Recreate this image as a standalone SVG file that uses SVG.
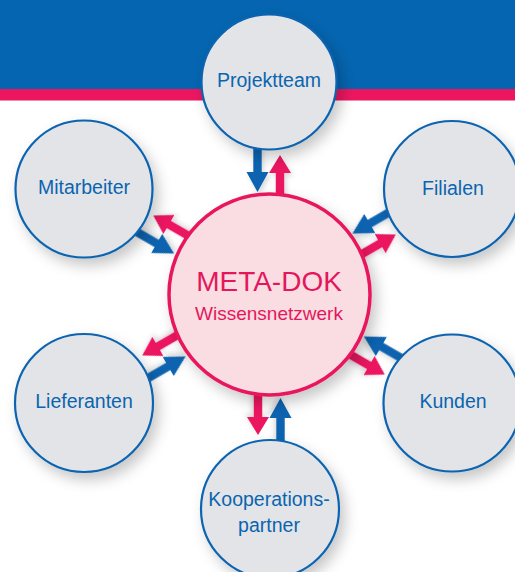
<svg xmlns="http://www.w3.org/2000/svg" width="515" height="572" viewBox="0 0 515 572">
  <defs>
    <style>
      .sat { fill: #e3e4e7; stroke: #0a64b0; stroke-width: 2.2; }
      .core { fill: #fadde3; stroke: #e8175d; stroke-width: 3.5; }
      .lbl { font-family: "Liberation Sans", Arial, sans-serif; font-size: 19.5px; fill: #0a64b0; text-anchor: middle; }
      .title { font-family: "Liberation Sans", Arial, sans-serif; font-size: 28px; fill: #e4175b; text-anchor: middle; }
      .sub { font-family: "Liberation Sans", Arial, sans-serif; font-size: 19px; fill: #e4175b; text-anchor: middle; }
      .in { fill: #0a64b0; }
      .out { fill: #ec1660; }
    </style>
    <filter id="sh" x="-30%" y="-30%" width="170%" height="170%">
      <feDropShadow dx="5" dy="7" stdDeviation="7" flood-color="#000" flood-opacity="0.22"/>
    </filter>
    <filter id="ash" x="-50%" y="-50%" width="200%" height="200%">
      <feDropShadow dx="2" dy="3" stdDeviation="2.5" flood-color="#000" flood-opacity="0.15"/>
    </filter>
    <g id="pair" filter="url(#ash)">
      <polygon class="in" points="-15.7,-150 -7.3,-150 -7.3,-123 -0.5,-123 -11.5,-103 -22.5,-123 -15.7,-123"/>
      <polygon class="out" points="6.8,-95 15.2,-95 15.2,-122 22,-122 11,-140 0,-122 6.8,-122"/>
    </g>
  </defs>

  <rect x="0" y="0" width="515" height="572" fill="#ffffff"/>
  <rect x="0" y="0" width="515" height="89" fill="#0565b0"/>
  <rect x="0" y="89" width="515" height="11.5" fill="#ec1660"/>

  <g id="connectors">
    <use href="#pair" transform="translate(269,295) rotate(0)"/>
    <use href="#pair" transform="translate(269,295) rotate(60)"/>
    <use href="#pair" transform="translate(269,295) rotate(120)"/>
    <use href="#pair" transform="translate(269,295) rotate(180)"/>
    <use href="#pair" transform="translate(269,295) rotate(240)"/>
    <use href="#pair" transform="translate(269,295) rotate(300)"/>
  </g>

  <g id="node-projektteam">
    <circle class="sat" cx="269" cy="82" r="67.5" filter="url(#sh)"/>
    <text class="lbl" x="269" y="87">Projektteam</text>
  </g>
  <g id="node-mitarbeiter">
    <circle class="sat" cx="84" cy="189" r="68.5" filter="url(#sh)"/>
    <text class="lbl" x="84" y="194">Mitarbeiter</text>
  </g>
  <g id="node-filialen">
    <circle class="sat" cx="452" cy="189" r="68" filter="url(#sh)"/>
    <text class="lbl" x="453" y="195">Filialen</text>
  </g>
  <g id="node-lieferanten">
    <circle class="sat" cx="84" cy="403" r="69" filter="url(#sh)"/>
    <text class="lbl" x="84" y="408">Lieferanten</text>
  </g>
  <g id="node-kunden">
    <circle class="sat" cx="452" cy="403" r="68.5" filter="url(#sh)"/>
    <text class="lbl" x="453" y="408">Kunden</text>
  </g>
  <g id="node-kooperationspartner">
    <circle class="sat" cx="270" cy="509" r="69" filter="url(#sh)"/>
    <text class="lbl" x="269" y="506">Kooperations-</text>
    <text class="lbl" x="269" y="531.5">partner</text>
  </g>
  <g id="node-metadok">
    <circle class="core" cx="269.5" cy="294.5" r="100.5" filter="url(#sh)"/>
    <text class="title" x="269" y="291">META-DOK</text>
    <text class="sub" x="269" y="320">Wissensnetzwerk</text>
  </g>
</svg>
